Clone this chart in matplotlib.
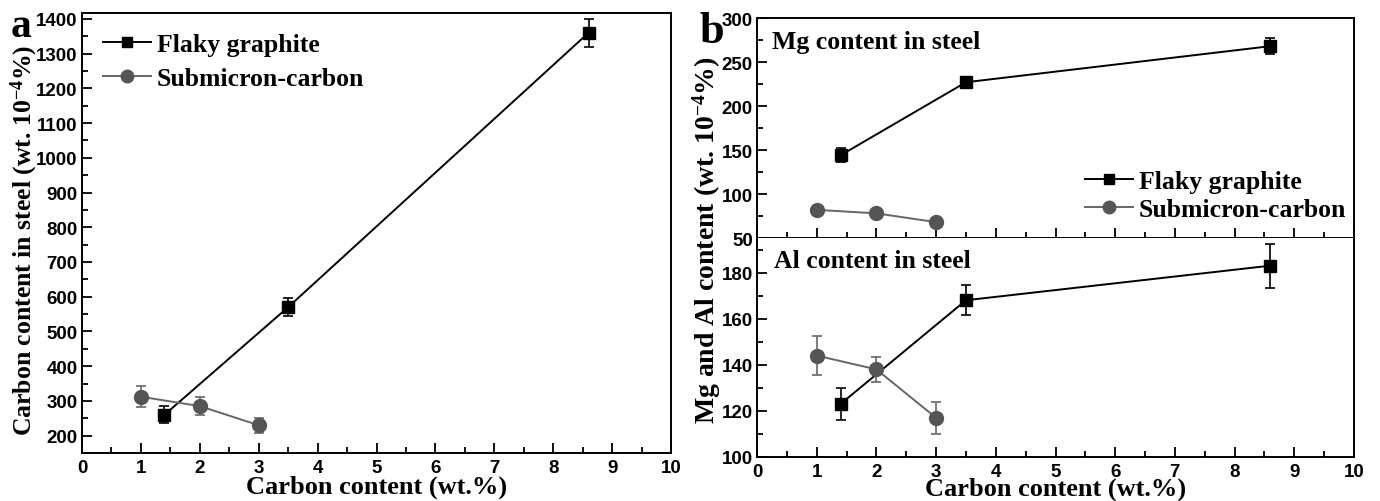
import matplotlib
matplotlib.use("Agg")
import matplotlib.pyplot as plt
from matplotlib.lines import Line2D
from matplotlib.ticker import MultipleLocator

# ---- data ----
flaky_x = [1.4, 3.5, 8.6]
sub_x = [1, 2, 3]

# panel a: carbon content in steel
flaky_c = [260, 570, 1360]
flaky_c_err = [25, 25, 40]
sub_c = [312, 285, 230]
sub_c_err = [30, 25, 22]

# panel b: Mg content in steel
flaky_mg = [144, 227, 268]
flaky_mg_err = [8, 5, 9]
sub_mg = [82, 78, 68]
sub_mg_err = [3, 3, 3]

# panel b: Al content in steel
flaky_al = [123, 168, 183]
flaky_al_err = [7, 6.5, 9.5]
sub_al = [144, 138, 117]
sub_al_err = [8.5, 5.5, 7]

W, H = 1380, 502
BLK = "black"
GRY = "#555555"
LGRY = "#666666"
serif = "Liberation Serif"

plt.rcParams["font.family"] = "Liberation Sans"
plt.rcParams["font.weight"] = "bold"
plt.rcParams["xtick.labelsize"] = 13.5
plt.rcParams["ytick.labelsize"] = 13.5
plt.rcParams["mathtext.fontset"] = "custom"
plt.rcParams["mathtext.rm"] = "Liberation Serif:bold"
plt.rcParams["mathtext.bf"] = "Liberation Serif:bold"
plt.rcParams["mathtext.it"] = "Liberation Serif:italic:bold"
plt.rcParams["mathtext.default"] = "rm"

fig = plt.figure(figsize=(W / 100, H / 100), dpi=100)


def box(l, t, r, b):
    return [l / W, 1 - b / H, (r - l) / W, (b - t) / H]


def style(ax, ymaj, ymin):
    ax.set_xlim(0, 10)
    ax.xaxis.set_major_locator(MultipleLocator(1))
    ax.xaxis.set_minor_locator(MultipleLocator(0.5))
    ax.yaxis.set_major_locator(MultipleLocator(ymaj))
    ax.yaxis.set_minor_locator(MultipleLocator(ymin))
    ax.tick_params(which="both", direction="in", width=1.3)
    ax.tick_params(which="major", length=7)
    ax.tick_params(which="minor", length=4)
    ax.tick_params(axis="y", pad=3)
    ax.tick_params(axis="x", pad=4)
    for s in ax.spines.values():
        s.set_linewidth(1.4)


def draw(ax, fy, fe, sy, se):
    ax.errorbar(flaky_x, fy, yerr=fe, color=BLK, marker="s", ms=9, lw=1.4,
                capsize=3.5, elinewidth=1.2, capthick=1.2, zorder=3)
    ax.errorbar(sub_x, sy, yerr=se, color=LGRY, mfc=GRY, mec=GRY, marker="o",
                ms=10, lw=1.4, capsize=3.5, elinewidth=1.2, capthick=1.2,
                zorder=3)


handles = [Line2D([], [], color=BLK, marker="s", ms=7, lw=1.4),
           Line2D([], [], color=LGRY, mfc=GRY, mec=GRY, marker="o", ms=9,
                  lw=1.4)]
names = ["Flaky graphite", "Submicron-carbon"]
legfont = {"family": serif, "weight": "bold", "size": 18.5}


def legend(ax, x, y, spacing):
    ax.legend(handles, names, loc="upper left", frameon=False, prop=legfont,
              bbox_to_anchor=(x / W, 1 - y / H), bbox_transform=fig.transFigure,
              borderpad=0, borderaxespad=0, handlelength=1.85,
              handletextpad=0.25, labelspacing=spacing)


# ---- panel a ----
axa = fig.add_axes(box(82, 14, 671, 454))
draw(axa, flaky_c, flaky_c_err, sub_c, sub_c_err)
axa.set_ylim(150, 1417)
style(axa, 100, 50)
legend(axa, 103, 34, 0.44)
axa.set_xlabel("Carbon content (wt.%)", fontfamily=serif, fontweight="bold",
               fontsize=19)
axa.xaxis.set_label_coords(0.5, (454 - 476) / 440)
axa.set_ylabel("Carbon content in steel (wt. 10$^{-4}$%)", fontfamily=serif,
               fontweight="bold", fontsize=18.5)
axa.yaxis.set_label_coords((40 - 82) / 589, (454 - 240) / 440)
fig.text(11 / W, 1 - 37 / H, "a", fontfamily=serif, fontweight="bold",
         fontsize=30)

# ---- panel b, top (Mg) ----
axm = fig.add_axes(box(757, 19, 1354, 239))
draw(axm, flaky_mg, flaky_mg_err, sub_mg, sub_mg_err)
axm.set_ylim(50, 300)
style(axm, 50, 25)
axm.tick_params(axis="x", labelbottom=False)
axm.text(772 / W, 1 - 49 / H, "Mg content in steel", transform=fig.transFigure,
         va="baseline", fontfamily=serif, fontweight="bold", fontsize=18.5)
legend(axm, 1085, 171, 0.2)

# ---- panel b, bottom (Al) ----
axl = fig.add_axes(box(757, 239, 1354, 458))
draw(axl, flaky_al, flaky_al_err, sub_al, sub_al_err)
axl.set_ylim(100, 195)
style(axl, 20, 10)
axl.spines["top"].set_visible(False)
axl.text(774 / W, 1 - 268 / H, "Al content in steel", transform=fig.transFigure,
         va="baseline", fontfamily=serif, fontweight="bold", fontsize=18.5)
axl.set_xlabel("Carbon content (wt.%)", fontfamily=serif, fontweight="bold",
               fontsize=19)
axl.xaxis.set_label_coords(0.5, (458 - 478) / 219)

fig.text(707 / W, 1 - 240 / H, "Mg and Al content (wt. 10$^{-4}$%)",
         rotation=90, ha="center", va="center", fontfamily=serif,
         fontweight="bold", fontsize=20)
fig.text(699 / W, 1 - 43 / H, "b", fontfamily=serif, fontweight="bold",
         fontsize=32)

fig.savefig("out.png", dpi=100)
